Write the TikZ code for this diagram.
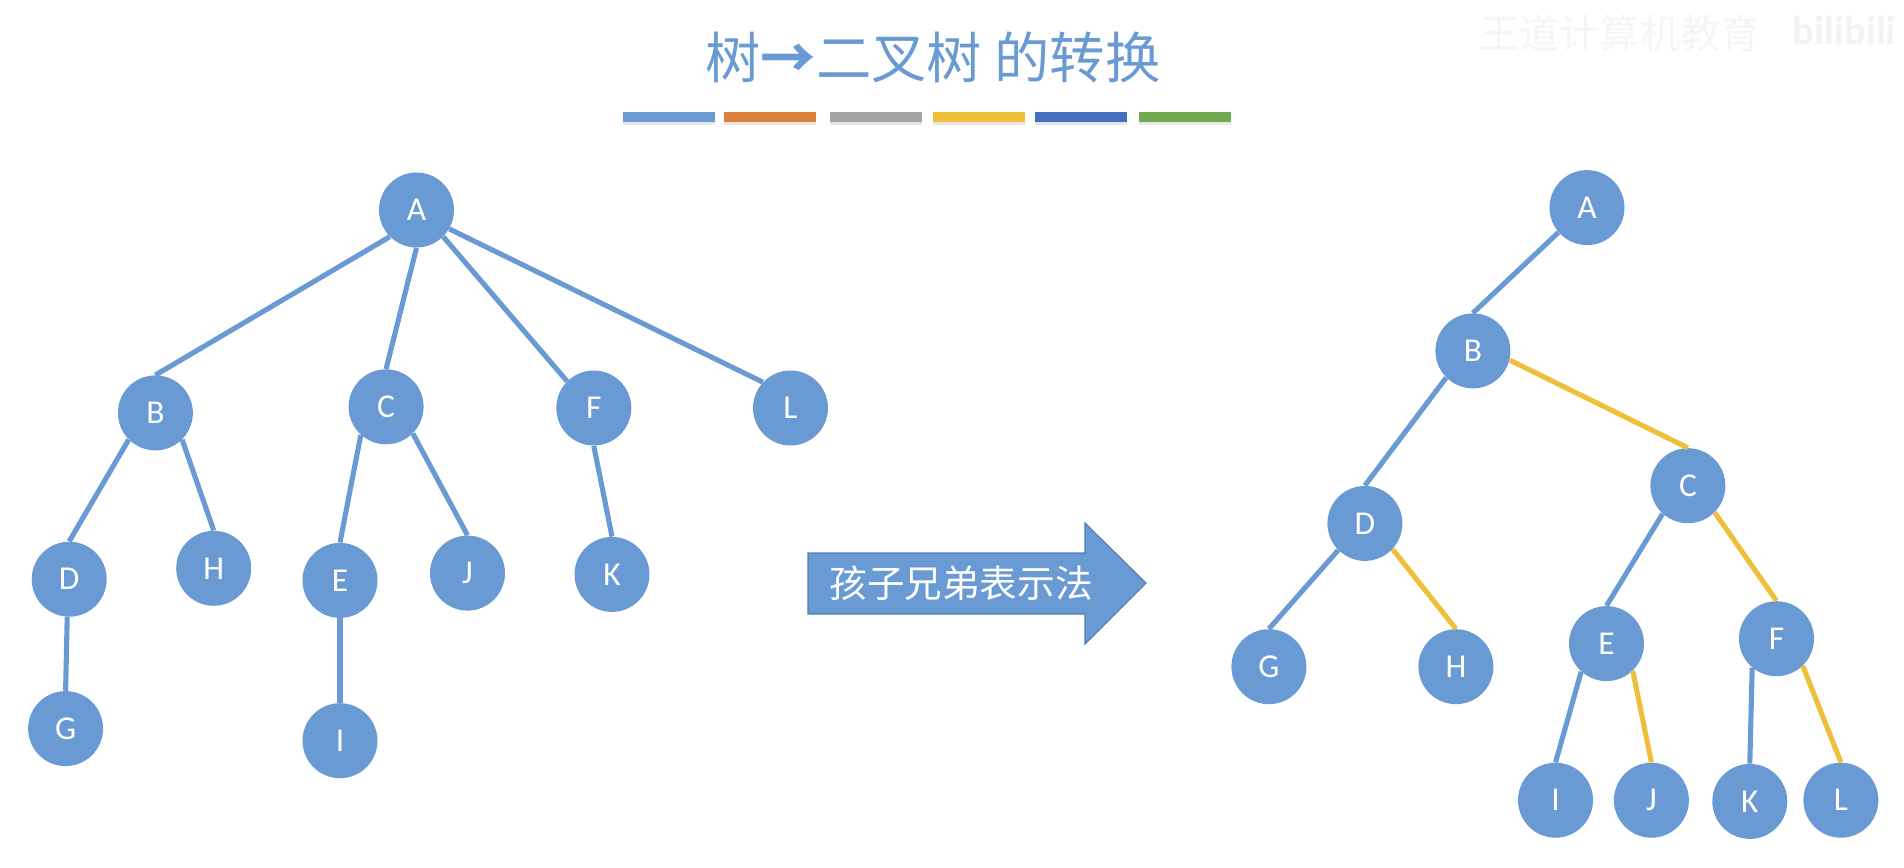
\documentclass[tikz,border=0pt]{standalone}
\usepackage{fontspec}
\setmainfont{Carlito}
\newfontfamily\cjk{Noto Sans CJK SC}
\usetikzlibrary{shadows}
\definecolor{treeblue}{HTML}{6A9AD3}
\definecolor{treeyellow}{HTML}{EDBF3A}
\definecolor{arrowline}{HTML}{4F7CB0}
\tikzset{
treenode/.style={circle,fill=treeblue,text=white,minimum size=1.5cm,inner sep=0pt,font=\fontsize{19}{19}\selectfont},
treeedge/.style={treeblue,line width=2.9pt},
siblingedge/.style={treeyellow,line width=2.9pt},
barbox/.style={rectangle,minimum width=1.84cm,minimum height=0.21cm,inner sep=0pt,
  drop shadow={shadow xshift=0pt,shadow yshift=-1.8pt,opacity=0.2}}
}
\begin{document}
\begin{tikzpicture}[x=0.02cm,y=-0.02cm]
\useasboundingbox (0,0) rectangle (1904,868);
% watermark
\node[text=black!4,font=\cjk\fontsize{22.8}{23}\selectfont] (mark) at (1620,33) {王道计算机教育};
\node[text=black!5,font=\bfseries\fontsize{23}{23}\selectfont,anchor=east] (logo) at (1902,30) {bilibili};
% title and colour bars
\node[text=treeblue,font=\cjk\fontsize{31.5}{32}\selectfont] (title) at (933,57) {树{\bfseries→}二叉树 的转换};
\node[barbox,fill=treeblue] (bar1) at (669,117) {};
\node[barbox,fill={rgb,255:red,222;green,127;blue,60}] (bar2) at (770,117) {};
\node[barbox,fill={rgb,255:red,165;green,163;blue,165}] (bar3) at (876,117) {};
\node[barbox,fill=treeyellow] (bar4) at (979,117) {};
\node[barbox,fill={rgb,255:red,70;green,112;blue,189}] (bar5) at (1081,117) {};
\node[barbox,fill={rgb,255:red,114;green,168;blue,78}] (bar6) at (1185,117) {};
% the tree
\node[treenode] (A) at (416.5,210) {A};
\node[treenode] (B) at (155.4,412.9) {B};
\node[treenode] (C) at (386.1,406.8) {C};
\node[treenode] (F) at (593.8,408) {F};
\node[treenode] (L) at (790.5,408) {L};
\node[treenode] (D) at (69.2,579.2) {D};
\node[treenode] (H) at (213.7,568.3) {H};
\node[treenode] (E) at (340,580.4) {E};
\node[treenode] (J) at (467.5,573.1) {J};
\node[treenode] (K) at (612,574.4) {K};
\node[treenode] (G) at (65.6,728.6) {G};
\node[treenode] (I) at (340,740.7) {I};
\draw[treeedge] (A.225) -- (B.90);
\draw[treeedge] (A.270) -- (C.90);
\draw[treeedge] (A.-45) -- (F.135);
\draw[treeedge] (A.-30) -- (L.137);
\draw[treeedge] (B.225) -- (D.90);
\draw[treeedge] (B.-45) -- (H.90);
\draw[treeedge] (C.-132) -- (E.90);
\draw[treeedge] (C.-45) -- (J.90);
\draw[treeedge] (F.270) -- (K.90);
\draw[treeedge] (D.-93) -- (G.90);
\draw[treeedge] (E.270) -- (I.90);
% big arrow
\draw[arrowline,fill=treeblue,line width=0.6pt] (808,553) -- (1085,553) -- (1085,523) -- (1146,583) -- (1085,644) -- (1085,614) -- (808,614) -- cycle;
\node[text=white,font=\cjk\fontsize{21.4}{22}\selectfont] (method) at (961,583) {孩子兄弟表示法};
% the binary tree
\node[treenode] (a) at (1587,207.6) {A};
\node[treenode] (b) at (1472.9,350.9) {B};
\node[treenode] (c) at (1687.9,485.7) {C};
\node[treenode] (d) at (1364.9,523.4) {D};
\node[treenode] (g) at (1268.9,666.7) {G};
\node[treenode] (h) at (1455.9,666.7) {H};
\node[treenode] (e) at (1606.5,643.6) {E};
\node[treenode] (f) at (1776.5,638.7) {F};
\node[treenode] (i) at (1555.5,800.2) {I};
\node[treenode] (j) at (1651.4,800.2) {J};
\node[treenode] (k) at (1749.8,801.4) {K};
\node[treenode] (l) at (1840.9,800.2) {L};
\draw[treeedge] (a.-139) -- (b.90);
\draw[treeedge] (b.225) -- (d.90);
\draw[treeedge] (c.-132) -- (e.90);
\draw[treeedge] (d.-135) -- (g.90);
\draw[treeedge] (e.-132) -- (i.90);
\draw[treeedge] (f.-130) -- (k.90);
\draw[siblingedge] (b.-14) -- (c.90);
\draw[siblingedge] (c.-45) -- (f.90);
\draw[siblingedge] (d.-43) -- (h.90);
\draw[siblingedge] (e.-46) -- (j.90);
\draw[siblingedge] (f.-46) -- (l.90);
\end{tikzpicture}
\end{document}
